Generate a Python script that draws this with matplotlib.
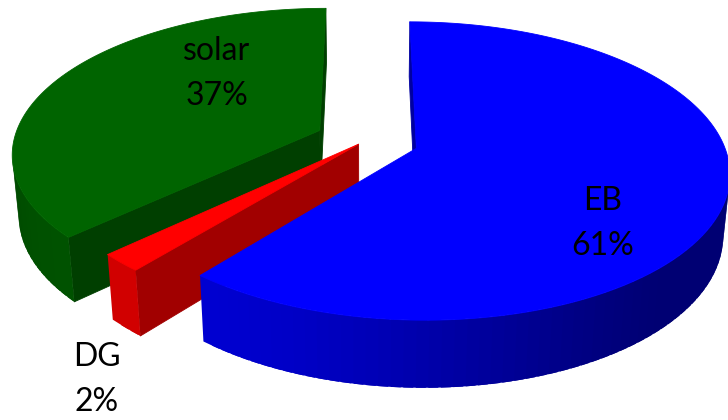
import numpy as np
import matplotlib
matplotlib.use("Agg")
import matplotlib.pyplot as plt
from matplotlib.patches import Polygon
from matplotlib.colors import to_rgb

# data
labels = ["EB", "DG", "solar"]
shares = [61, 2, 37]
top_colors = ["#0000FF", "#FF0000", "#006400"]
explode = [0.17, 0.04, 0.17]

# label anchor (baseline of first line, pixel coords)
label_pos = {"EB": (603, 210), "DG": (97, 366), "solar": (217, 60)}
LINE_GAP = 45

# camera / layout, in pixel space of the 728x420 figure
CX, CY = 367, 140      # screen position of pie centre (top face)
S = 306                # radius scale
ELEV = np.radians(27.9)
DIST = 5.86
H = 0.227              # thickness (radius = 1)
CAM = np.array([0.0, -DIST * np.cos(ELEV), DIST * np.sin(ELEV)])


def project(X, Y, Z):
    X, Y, Z = np.asarray(X, float), np.asarray(Y, float), np.asarray(Z, float)
    v = Y * np.sin(ELEV) + Z * np.cos(ELEV)
    w = Y * np.cos(ELEV) - Z * np.sin(ELEV)
    k = DIST / (DIST + w)
    return np.column_stack([CX + S * X * k, CY - S * v * k])


def facing(p, n):
    return np.dot(n, CAM - p) > 0


def shade(c, f):
    return tuple(np.clip(np.array(to_rgb(c)) * f, 0, 1))


def wall_light(phi):
    return 0.45 + 0.37 * max(0.0, np.cos(phi - np.radians(225))) ** 1.5


fig = plt.figure(figsize=(7.28, 4.2), dpi=100)
ax = fig.add_axes([0, 0, 1, 1])
ax.set_xlim(0, 728)
ax.set_ylim(420, 0)
ax.axis("off")

total = float(sum(shares))
slices = []
start = 90.0
for name, val, col, ex in zip(labels, shares, top_colors, explode):
    sweep = val / total * 360.0
    t0, t1 = np.radians(start), np.radians(start - sweep)
    mid = 0.5 * (t0 + t1)
    off = ex * np.array([np.cos(mid), np.sin(mid)])
    slices.append(dict(name=name, val=val, col=col, t0=t0, t1=t1, off=off))
    start -= sweep

# far slices first
order = sorted(range(len(slices)), key=lambda i: -slices[i]["off"][1])


def add(pts, fc, lw=0.6):
    ax.add_patch(Polygon(pts, closed=True, fc=fc, ec=fc if lw else "none", lw=lw,
                         joinstyle="round"))


def quad(ox, oy, a, b):
    X = [ox + np.cos(a), ox + np.cos(b), ox + np.cos(b), ox + np.cos(a)]
    Y = [oy + np.sin(a), oy + np.sin(b), oy + np.sin(b), oy + np.sin(a)]
    return project(X, Y, [0, 0, -H, -H])


# side walls
for i in order:
    s = slices[i]
    ox, oy = s["off"]
    lo, hi = s["t1"], s["t0"]
    # radial faces
    for ang, sign in ((hi, 1), (lo, -1)):
        nrm = sign * np.array([-np.sin(ang), np.cos(ang), 0.0])
        p = np.array([ox + 0.5 * np.cos(ang), oy + 0.5 * np.sin(ang), -H / 2])
        if facing(p, nrm):
            X = [ox, ox + np.cos(ang), ox + np.cos(ang), ox]
            Y = [oy, oy + np.sin(ang), oy + np.sin(ang), oy]
            add(project(X, Y, [0, 0, -H, -H]), shade(s["col"], 0.63))
    # curved outer wall: shaded overlapping strips
    n = max(3, int((hi - lo) / (2 * np.pi) * 180))
    t = np.linspace(lo, hi, n + 1)
    dt = t[1] - t[0]
    vis = []
    for a, b in zip(t[:-1], t[1:]):
        m = 0.5 * (a + b)
        p = np.array([ox + np.cos(m), oy + np.sin(m), -H / 2])
        if facing(p, np.array([np.cos(m), np.sin(m), 0.0])):
            vis.append((a, b, m))
    for a, b, m in vis:
        b2 = min(b + 0.8 * dt, vis[-1][1])
        add(quad(ox, oy, a, b2), shade(s["col"], wall_light(m)), lw=0)

# top faces
for i in order:
    s = slices[i]
    ox, oy = s["off"]
    t = np.linspace(s["t0"], s["t1"], 300)
    X = np.concatenate([[ox], ox + np.cos(t)])
    Y = np.concatenate([[oy], oy + np.sin(t)])
    add(project(X, Y, np.zeros_like(X)), s["col"])

# labels
for s in slices:
    x, y = label_pos[s["name"]]
    pct = s["val"] / total * 100
    ax.text(x, y, s["name"], ha="center", va="baseline", fontsize=23,
            family=["Lato", "DejaVu Sans"], color="black")
    ax.text(x, y + LINE_GAP, f"{pct:.0f}%", ha="center", va="baseline", fontsize=23,
            family=["Lato", "DejaVu Sans"], color="black")

fig.savefig("out.png", dpi=100)
